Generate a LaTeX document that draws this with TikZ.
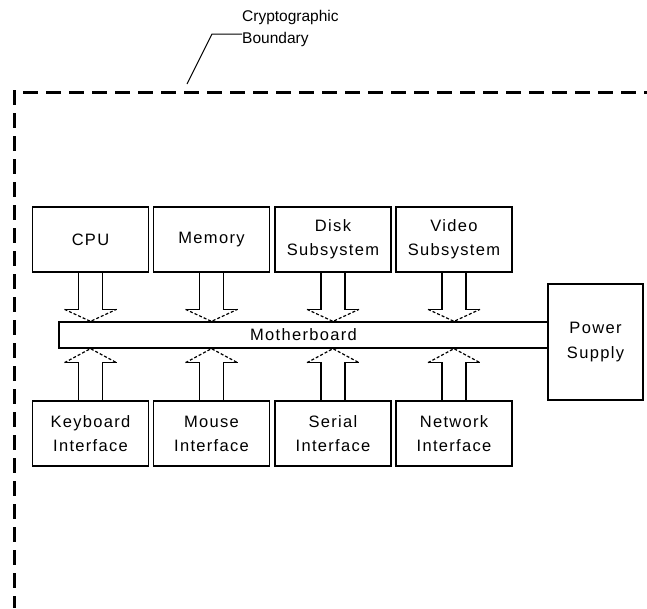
\documentclass[tikz,border=0pt]{standalone}
\usepackage{fontspec}
\setmainfont{Liberation Sans}
\newfontfamily\lblfont[LetterSpace=8]{Liberation Sans}
\usetikzlibrary{calc}
\tikzset{
  unit/.style={draw, line width=1.3pt, minimum width=116pt, minimum height=65pt, inner sep=0pt,
    align=center, font=\lblfont\fontsize{16.5}{24}\selectfont},
  boardbox/.style={draw, line width=1.3pt, minimum width=489pt, minimum height=26pt, inner sep=0pt,
    font=\lblfont\fontsize{16.5}{24}\selectfont},
  psbox/.style={draw, line width=1.3pt, minimum width=95pt, minimum height=116pt, inner sep=0pt,
    align=center, font=\lblfont\fontsize{16.5}{25}\selectfont},
  boundary/.style={line width=3pt, dash pattern=on 15pt off 8pt},
  shaftline/.style={line width=1.3pt},
  headline/.style={line width=1.2pt, dash pattern=on 3pt off 2pt},
  leader/.style={line width=1pt},
}
\newcommand\busdown[2]{%
  \draw[shaftline] ($(#1.south)+(-12,0)$) -- ($(#2)+(-12,-12)$) -- ($(#2)+(-26,-12)$);
  \draw[shaftline] ($(#1.south)+(12,0)$) -- ($(#2)+(12,-12)$) -- ($(#2)+(26,-12)$);
  \draw[headline] ($(#2)+(-26,-12)$) -- (#2) -- ($(#2)+(26,-12)$);
}
\newcommand\busup[2]{%
  \draw[shaftline] ($(#1.north)+(-12,0)$) -- ($(#2)+(-12,14)$) -- ($(#2)+(-26,14)$);
  \draw[shaftline] ($(#1.north)+(12,0)$) -- ($(#2)+(12,14)$) -- ($(#2)+(26,14)$);
  \draw[headline] ($(#2)+(-26,14)$) -- (#2) -- ($(#2)+(26,14)$);
}
\begin{document}
\begin{tikzpicture}[x=1pt,y=-1pt]
\useasboundingbox (0,0) rectangle (647,608);

% boundary
\draw[boundary] (14,90) -- (14,608);
\draw[boundary] (23,92) -- (647,92);

% label and leader
\node[anchor=north west, align=left, inner sep=0pt, font=\fontsize{15.5}{22}\selectfont] (blabel) at (242,10) {Cryptographic\\Boundary};
\coordinate (lp) at (187,84);
\coordinate (lk) at (212,34);
\draw[leader] (lp) -- (lk) -- (lk -| blabel.west);

% units
\node[unit] (cpu)  at (90.5,239.5) {CPU};
\node[unit] (mem)  at (211.5,239.5) {Memory};
\node[unit] (disk) at (333,239.5) {Disk\\Subsystem};
\node[unit] (vid)  at (454,239.5) {Video\\Subsystem};

\node[boardbox] (mb) at (303.5,335) {Motherboard};
\node[psbox] (ps) at (595.5,342) {Power\\Supply};

\node[unit] (kbd) at (90.5,433.5) {Keyboard\\Interface};
\node[unit] (mouse) at (211.5,433.5) {Mouse\\Interface};
\node[unit] (ser) at (333,433.5) {Serial\\Interface};
\node[unit] (net) at (454,433.5) {Network\\Interface};

% arrows
\foreach \b in {cpu,mem,disk,vid}{
  \coordinate (tip\b) at (\b.south |- mb.north);
  \busdown{\b}{tip\b}
}
\foreach \b in {kbd,mouse,ser,net}{
  \coordinate (tip\b) at (\b.north |- mb.south);
  \busup{\b}{tip\b}
}
\end{tikzpicture}
\end{document}
